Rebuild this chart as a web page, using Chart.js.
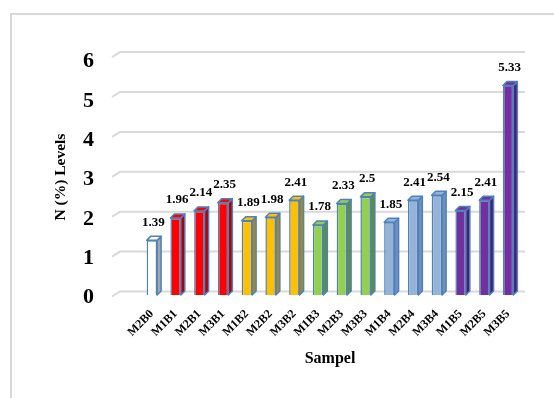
<!DOCTYPE html>
<html>
<head>
<meta charset="utf-8">
<script src="https://cdn.jsdelivr.net/npm/chart.js@4.4.1/dist/chart.umd.min.js"></script>
<style>
  html, body { margin: 0; padding: 0; background: #ffffff; }
  #wrap { position: relative; width: 554px; height: 398px; }
  #frame { position: absolute; left: 10px; top: 13px; right: -2px; bottom: -2px; border: 2px solid #d9d9d9; box-sizing: border-box; }
  canvas { position: absolute; left: 0; top: 0; }
</style>
</head>
<body>
<div id="wrap">
  <div id="frame"></div>
  <canvas id="c" width="554" height="398"></canvas>
</div>
<script>
// Nitrogen content per sample
const samples = ['M2B0','M1B1','M2B1','M3B1','M1B2','M2B2','M3B2','M1B3','M2B3','M3B3','M1B4','M2B4','M3B4','M1B5','M2B5','M3B5'];
const nLevels = [1.39, 1.96, 2.14, 2.35, 1.89, 1.98, 2.41, 1.78, 2.33, 2.5, 1.85, 2.41, 2.54, 2.15, 2.41, 5.33];
const yTicks = [0, 1, 2, 3, 4, 5, 6];

// colour per group (B0 .. B5): front face and darker side face
const frontColors = ['#ffffff','#ff0000','#ff0000','#ff0000','#ffc000','#ffc000','#ffc000','#92d050','#92d050','#92d050','#95b3d7','#95b3d7','#95b3d7','#7030a0','#7030a0','#7030a0'];
const sideColors  = ['#a6a6a6','#b00000','#b00000','#b00000','#a88a1a','#a88a1a','#a88a1a','#5f8f2f','#5f8f2f','#5f8f2f','#6f8fbd','#6f8fbd','#6f8fbd','#4a1f70','#4a1f70','#4a1f70'];
const edgeColor = '#4f81bd';
const serif = '"Liberation Serif", "Times New Roman", serif';
const DEPTH = 4;

// perspective floor grid behind the bars
const backGrid = {
  id: 'backGrid',
  beforeDatasetsDraw(chart) {
    const { ctx, chartArea } = chart;
    const y = chart.scales.y;
    ctx.save();
    ctx.strokeStyle = '#d9d9d9';
    ctx.lineWidth = 2;
    yTicks.forEach(v => {
      const py = y.getPixelForValue(v) - 3.5 - v * 0.6;
      ctx.beginPath();
      ctx.moveTo(chartArea.left - 28, py + 5);
      ctx.lineTo(chartArea.left - 20, py);
      ctx.lineTo(chartArea.right + 5, py);
      ctx.stroke();
    });
    ctx.restore();
  }
};

// side and top faces of each bar, plus the value labels
const bar3d = {
  id: 'bar3d',
  afterDatasetsDraw(chart) {
    const { ctx } = chart;
    const meta = chart.getDatasetMeta(0);
    ctx.save();
    meta.data.forEach((bar, i) => {
      const { x, y, base, width } = bar.getProps(['x', 'y', 'base', 'width'], true);
      const l = x - width / 2, r = x + width / 2;
      ctx.lineWidth = 1.5;
      ctx.strokeStyle = edgeColor;
      ctx.lineJoin = 'round';
      // side
      ctx.beginPath();
      ctx.moveTo(r, y);
      ctx.lineTo(r + DEPTH, y - DEPTH);
      ctx.lineTo(r + DEPTH, base - DEPTH);
      ctx.lineTo(r, base);
      ctx.closePath();
      ctx.fillStyle = sideColors[i];
      ctx.fill();
      ctx.stroke();
      // top
      ctx.beginPath();
      ctx.moveTo(l, y);
      ctx.lineTo(l + DEPTH, y - DEPTH);
      ctx.lineTo(r + DEPTH, y - DEPTH);
      ctx.lineTo(r, y);
      ctx.closePath();
      ctx.fillStyle = frontColors[i];
      ctx.fill();
      ctx.stroke();
      // value label
      ctx.fillStyle = '#000000';
      ctx.font = 'bold 13px ' + serif;
      ctx.textAlign = 'center';
      ctx.textBaseline = 'middle';
      ctx.fillText(String(nLevels[i]), x + 1.5, y - 18);
    });
    ctx.restore();
  }
};

new Chart(document.getElementById('c'), {
  type: 'bar',
  data: {
    labels: samples,
    datasets: [{
      data: nLevels,
      backgroundColor: frontColors,
      borderColor: edgeColor,
      borderWidth: 1.5,
      barPercentage: 0.44,
      categoryPercentage: 1
    }]
  },
  options: {
    responsive: false,
    animation: false,
    events: [],
    layout: { padding: { left: 48, right: 34, top: 55, bottom: 26 } },
    plugins: { legend: { display: false }, tooltip: { enabled: false } },
    scales: {
      x: {
        grid: { display: false, drawTicks: false },
        border: { display: false },
        ticks: {
          color: '#000000',
          font: { family: serif, size: 12, weight: 'bold' },
          minRotation: 45,
          maxRotation: 45,
          padding: 12,
          autoSkip: false
        },
        title: {
          display: true,
          text: 'Sampel',
          color: '#000000',
          font: { family: serif, size: 16, weight: 'bold' },
          padding: { top: 4, bottom: 4 }
        },
        afterFit(s) { s.height = 398 - 295 - 26; }
      },
      y: {
        min: 0,
        max: 6,
        afterBuildTicks(s) { s.ticks = yTicks.map(v => ({ value: v })); },
        grid: { display: false, drawTicks: false },
        border: { display: false },
        ticks: {
          color: '#000000',
          font: { family: serif, size: 22, weight: 'bold' },
          padding: 46,
          labelOffset: 2.5
        },
        title: {
          display: true,
          text: 'N (%) Levels',
          color: '#000000',
          font: { family: serif, size: 15.5, weight: 'bold' },
          padding: { top: 4, bottom: 4 }
        },
        afterFit(s) { s.width = 140 - 48; }
      }
    }
  },
  plugins: [backGrid, bar3d]
});
</script>
</body>
</html>
